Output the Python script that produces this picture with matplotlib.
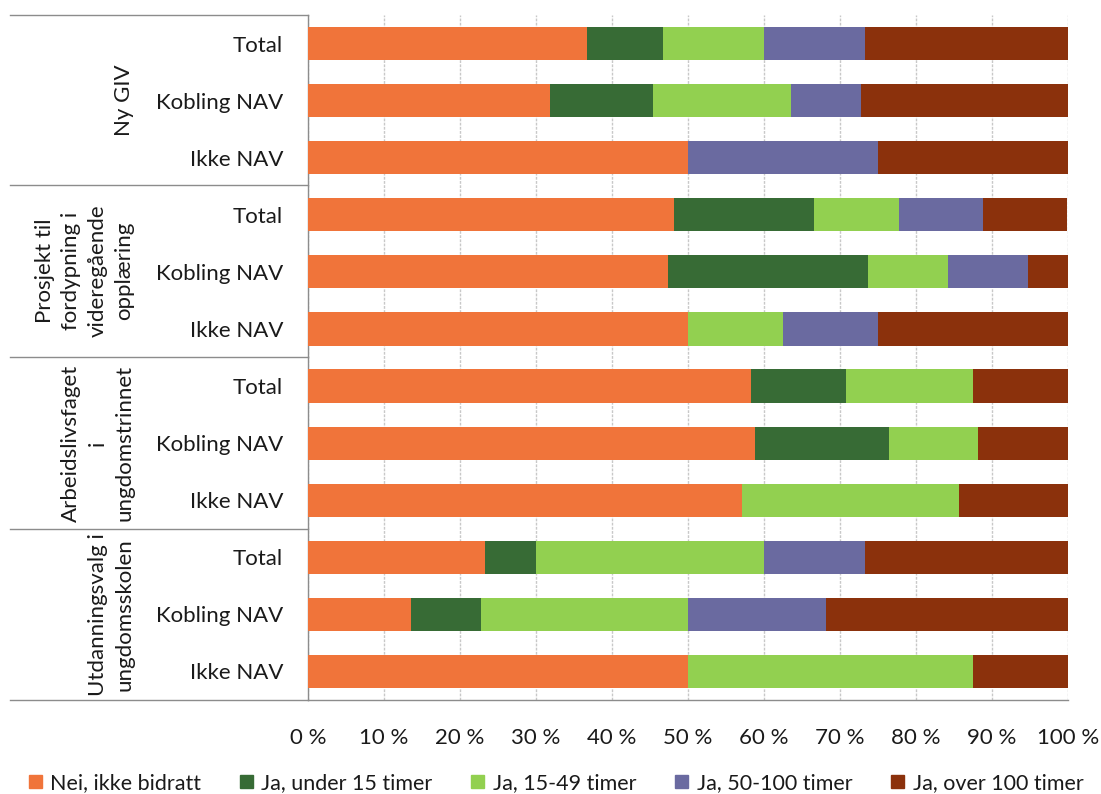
import numpy as np
import matplotlib
matplotlib.use("Agg")
import matplotlib.pyplot as plt
from matplotlib.lines import Line2D
from matplotlib.ticker import FuncFormatter

plt.rcParams["font.family"] = ["Lato", "DejaVu Sans"]

# ── Data (andel i prosent) ───────────────────────────────────────────────────
groups = [
    "Ny GIV",
    "Prosjekt til\nfordypning i\nvideregående\nopplæring",
    "Arbeidslivsfaget\ni\nungdomstrinnet",
    "Utdanningsvalg i\nungdomsskolen",
]
rows = ["Total", "Kobling NAV", "Ikke NAV"]

series = ["Nei, ikke bidratt", "Ja, under 15 timer", "Ja, 15-49 timer",
          "Ja, 50-100 timer", "Ja, over 100 timer"]
colors = ["#F0743A", "#376B35", "#92D050", "#6A6AA0", "#8B310C"]

nei       = [36.7, 31.8, 50.0, 48.1, 47.4, 50.0, 58.3, 58.8, 57.1, 23.3, 13.6, 50.0]
under15   = [10.0, 13.6,  0.0, 18.5, 26.3,  0.0, 12.5, 17.6,  0.0,  6.7,  9.1,  0.0]
t15_49    = [13.3, 18.2,  0.0, 11.1, 10.5, 12.5, 16.7, 11.8, 28.6, 30.0, 27.3, 37.5]
t50_100   = [13.3,  9.1, 25.0, 11.1, 10.5, 12.5,  0.0,  0.0,  0.0, 13.3, 18.2,  0.0]
over100   = [26.7, 27.3, 25.0, 11.1,  5.3, 25.0, 12.5, 11.8, 14.3, 26.7, 31.8, 12.5]

values = np.array([nei, under15, t15_49, t50_100, over100])
labels = rows * len(groups)

# ── Figur ────────────────────────────────────────────────────────────────────
W, H = 1101, 794
fig = plt.figure(figsize=(W / 100, H / 100), dpi=100)
x0, x1, y_top, y_bot = 308, 1068, 15, 700
ax = fig.add_axes([x0 / W, 1 - y_bot / H, (x1 - x0) / W, (y_bot - y_top) / H])

y = np.arange(len(labels))
left = np.zeros(len(labels))
for vals, name, col in zip(values, series, colors):
    ax.barh(y, vals, left=left, height=0.58, color=col, label=name, zorder=3)
    left += vals

ax.set_ylim(len(labels) - 0.5, -0.5)
ax.set_xlim(0, 100)
ax.set_xticks(np.arange(0, 101, 10))
ax.xaxis.set_major_formatter(FuncFormatter(lambda v, _: f"{v:.0f} %"))
ax.set_yticks(y)
ax.set_yticklabels(labels)
ax.tick_params(axis="y", length=0, pad=18, labelsize=16, colors="#1a1a1a")
ax.tick_params(axis="x", length=0, pad=20, labelsize=16, colors="#1a1a1a")
ax.grid(axis="x", color="#c8c8c8", ls=(0, (2, 1)), lw=1, zorder=0)
for s in ["top", "right"]:
    ax.spines[s].set_visible(False)
for s in ["left", "bottom"]:
    ax.spines[s].set_color("#8c8c8c")
    ax.spines[s].set_linewidth(1)

# gruppeskiller og gruppetitler til venstre
bounds = [15, 185, 357, 529, 700]
for yb in bounds:
    fig.add_artist(Line2D([10 / W, x0 / W], [1 - yb / H, 1 - yb / H],
                          color="#8c8c8c", lw=1))
for i, g in enumerate(groups):
    yc = (bounds[i] + bounds[i + 1]) / 2
    fig.text(134 / W, 1 - yc / H, g, rotation=90, ha="right", va="center",
             multialignment="center", fontsize=16, color="#1a1a1a",
             linespacing=1.4)

handles = [plt.Rectangle((0, 0), 1, 1, color=c) for c in colors]
fig.legend(handles, series, loc="center", bbox_to_anchor=(0.505, 1 - 783 / H),
           ncol=5, frameon=False, fontsize=15.5, handlelength=0.6,
           handleheight=0.6, handletextpad=0.4, columnspacing=1.8,
           labelcolor="#1a1a1a")

fig.savefig("out.png", dpi=100)
